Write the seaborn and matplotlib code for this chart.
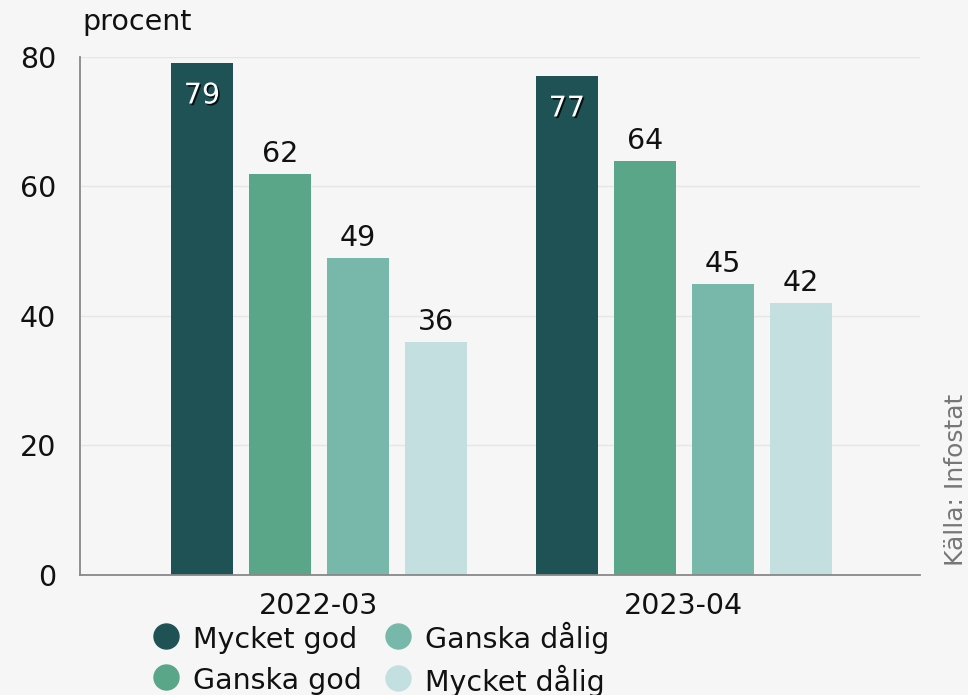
import pandas as pd
import matplotlib.pyplot as plt
import matplotlib.patheffects as pe
from matplotlib.lines import Line2D
import seaborn as sns

# data
periods = ["2022-03", "2023-04"]
answers = ["Mycket god", "Ganska god", "Ganska dålig", "Mycket dålig"]
values_2022 = [79, 62, 49, 36]
values_2023 = [77, 64, 45, 42]
colors = ["#1f5254", "#5aa689", "#78b8ab", "#c4dfe0"]

df = pd.DataFrame({
    "period": [periods[0]] * 4 + [periods[1]] * 4,
    "answer": answers + answers,
    "value": values_2022 + values_2023,
})

sns.set_theme(style="white")
bg = "#f6f6f6"
plt.rcParams["font.family"] = ["DejaVu Sans"]
plt.rcParams["figure.facecolor"] = bg
plt.rcParams["axes.facecolor"] = bg
plt.rcParams["text.color"] = "#111111"

fs = 20.5
fig = plt.figure(figsize=(9.68, 6.95), dpi=100)
ax = fig.add_axes([0.0826, 0.1727, 0.8678, 0.7453])

sns.barplot(data=df, x="period", y="value", hue="answer", hue_order=answers,
            palette=colors, width=0.855, gap=0.2, saturation=1,
            linewidth=0, legend=False, ax=ax)

ax.set_ylim(0, 80)
ax.set_xlim(-0.655, 1.647)
ax.set_yticks([0, 20, 40, 60, 80])
ax.yaxis.grid(True, color="#e6e6e6", linewidth=1)
ax.set_axisbelow(True)
for s in ["top", "right"]:
    ax.spines[s].set_visible(False)
ax.spines["left"].set_color("#888888")
ax.spines["bottom"].set_color("#888888")
ax.spines["left"].set_linewidth(1.3)
ax.spines["bottom"].set_linewidth(1.3)
ax.tick_params(axis="y", length=13, width=1.3, color="#888888",
               labelsize=fs, labelcolor="#111111", pad=4)
ax.tick_params(axis="x", length=0, labelsize=fs, labelcolor="#111111", pad=12)
ax.set_xlabel("")
ax.set_ylabel("")

# value labels
for i, cont in enumerate(ax.containers):
    for bar in cont:
        h = bar.get_height()
        xc = bar.get_x() + bar.get_width() / 2
        if i == 0:
            ax.annotate(f"{h:.0f}", (xc, h), xytext=(0, -32),
                        textcoords="offset pixels", ha="center", va="center",
                        fontsize=fs, color="white",
                        path_effects=[pe.withSimplePatchShadow(
                            offset=(1.2, -1.2), shadow_rgbFace="black",
                            alpha=0.8)])
        else:
            ax.annotate(f"{h:.0f}", (xc, h), xytext=(0, 20),
                        textcoords="offset pixels", ha="center", va="center",
                        fontsize=fs, color="#111111")

fig.text(82 / 968, 1 - 22 / 695, "procent", fontsize=fs, color="#111111",
         ha="left", va="center")
fig.text(956 / 968, 1 - 480 / 695, "Källa: Infostat", fontsize=18,
         color="#777777", rotation=90, ha="center", va="center")

handles = [Line2D([], [], marker="o", linestyle="", markersize=18,
                  markerfacecolor=c, markeredgecolor=c) for c in colors]
fig.legend(handles, answers, loc="upper left",
           bbox_to_anchor=(152 / 968, 1 - 622 / 695), ncol=2, frameon=False,
           fontsize=fs, handletextpad=0.45, columnspacing=0.75,
           labelspacing=0.36, borderaxespad=0, borderpad=0,
           handlelength=1.0, handleheight=1.3, labelcolor="#111111")

fig.savefig("out.png", dpi=100, facecolor=bg)
